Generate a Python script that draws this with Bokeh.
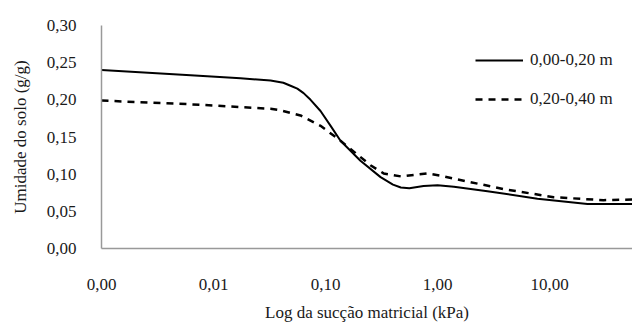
from bokeh.plotting import figure
from bokeh.models import Range1d, FixedTicker, CustomJSTickFormatter, Legend, LegendItem
from bokeh.embed import file_html
from bokeh.resources import INLINE

# Data
suction_a = [0.001, 0.00624, 0.0174, 0.0323, 0.0420, 0.0487, 0.0560, 0.0637, 0.0735, 0.0902,
             0.111, 0.136, 0.205, 0.31, 0.40, 0.47, 0.56, 0.75, 1.0, 1.4, 2.79, 7.8, 21.8, 55]
moist_a = [0.240, 0.233, 0.229, 0.226, 0.223, 0.219, 0.215, 0.209, 0.200, 0.185,
           0.165, 0.145, 0.118, 0.096, 0.086, 0.082, 0.081, 0.084, 0.085, 0.083, 0.077, 0.067, 0.060, 0.060]

suction_b = [0.001, 0.00624, 0.0323, 0.0396, 0.0598, 0.0902, 0.136, 0.167, 0.252, 0.33,
             0.47, 0.81, 1.06, 1.39, 3.88, 10.9, 30.3, 55]
moist_b = [0.199, 0.194, 0.188, 0.186, 0.179, 0.165, 0.145, 0.134, 0.112, 0.101,
           0.097, 0.101, 0.098, 0.094, 0.080, 0.069, 0.065, 0.066]

series_labels = ["0,00-0,20 m", "0,20-0,40 m"]
x_ticks = [0.001, 0.01, 0.1, 1, 10]
y_ticks = [0, 0.05, 0.10, 0.15, 0.20, 0.25, 0.30]

FONT = "serif"
TXT = "#1a1a1a"

p = figure(width=632, height=325, x_axis_type="log", output_backend="svg",
           toolbar_location=None,
           x_range=Range1d(0.001, 55), y_range=Range1d(0, 0.30),
           min_border_left=101, min_border_right=0, min_border_top=25, min_border_bottom=77)
p.outline_line_color = None
p.xgrid.visible = False
p.ygrid.visible = False

r1 = p.line(suction_a, moist_a, line_color="black", line_width=2)
r2 = p.line(suction_b, moist_b, line_color="black", line_width=2.5, line_dash="7 6")

fmt = CustomJSTickFormatter(code="return tick.toFixed(2).replace('.', ',');")
p.xaxis.ticker = FixedTicker(ticks=x_ticks)
p.yaxis.ticker = FixedTicker(ticks=y_ticks)
p.xaxis.formatter = fmt
p.yaxis.formatter = fmt

for ax in (p.xaxis[0], p.yaxis[0]):
    ax.axis_line_color = "#999999"
    ax.axis_line_width = 1.5
    ax.major_tick_line_color = None
    ax.minor_tick_line_color = None
    ax.major_label_text_font = FONT
    ax.major_label_text_font_size = "17px"
    ax.major_label_text_color = TXT
    ax.axis_label_text_font = FONT
    ax.axis_label_text_font_size = "17px"
    ax.axis_label_text_font_style = "normal"
    ax.axis_label_text_color = TXT

p.xaxis.axis_label = "Log da sucção matricial (kPa)"
p.yaxis.axis_label = "Umidade do solo (g/g)"
p.xaxis.major_label_standoff = 24
p.xaxis.axis_label_standoff = 10
p.yaxis.major_label_standoff = 19
p.yaxis.axis_label_standoff = 14

legend = Legend(items=[LegendItem(label=series_labels[0], renderers=[r1]),
                       LegendItem(label=series_labels[1], renderers=[r2])],
                location=(374, 139), padding=0, margin=0, spacing=19,
                glyph_width=48, glyph_height=20, label_height=20, label_standoff=7,
                border_line_alpha=0, background_fill_alpha=0,
                label_text_font=FONT, label_text_font_size="17px", label_text_color=TXT)
p.add_layout(legend)

open("out.html", "w").write(file_html(p, INLINE))
